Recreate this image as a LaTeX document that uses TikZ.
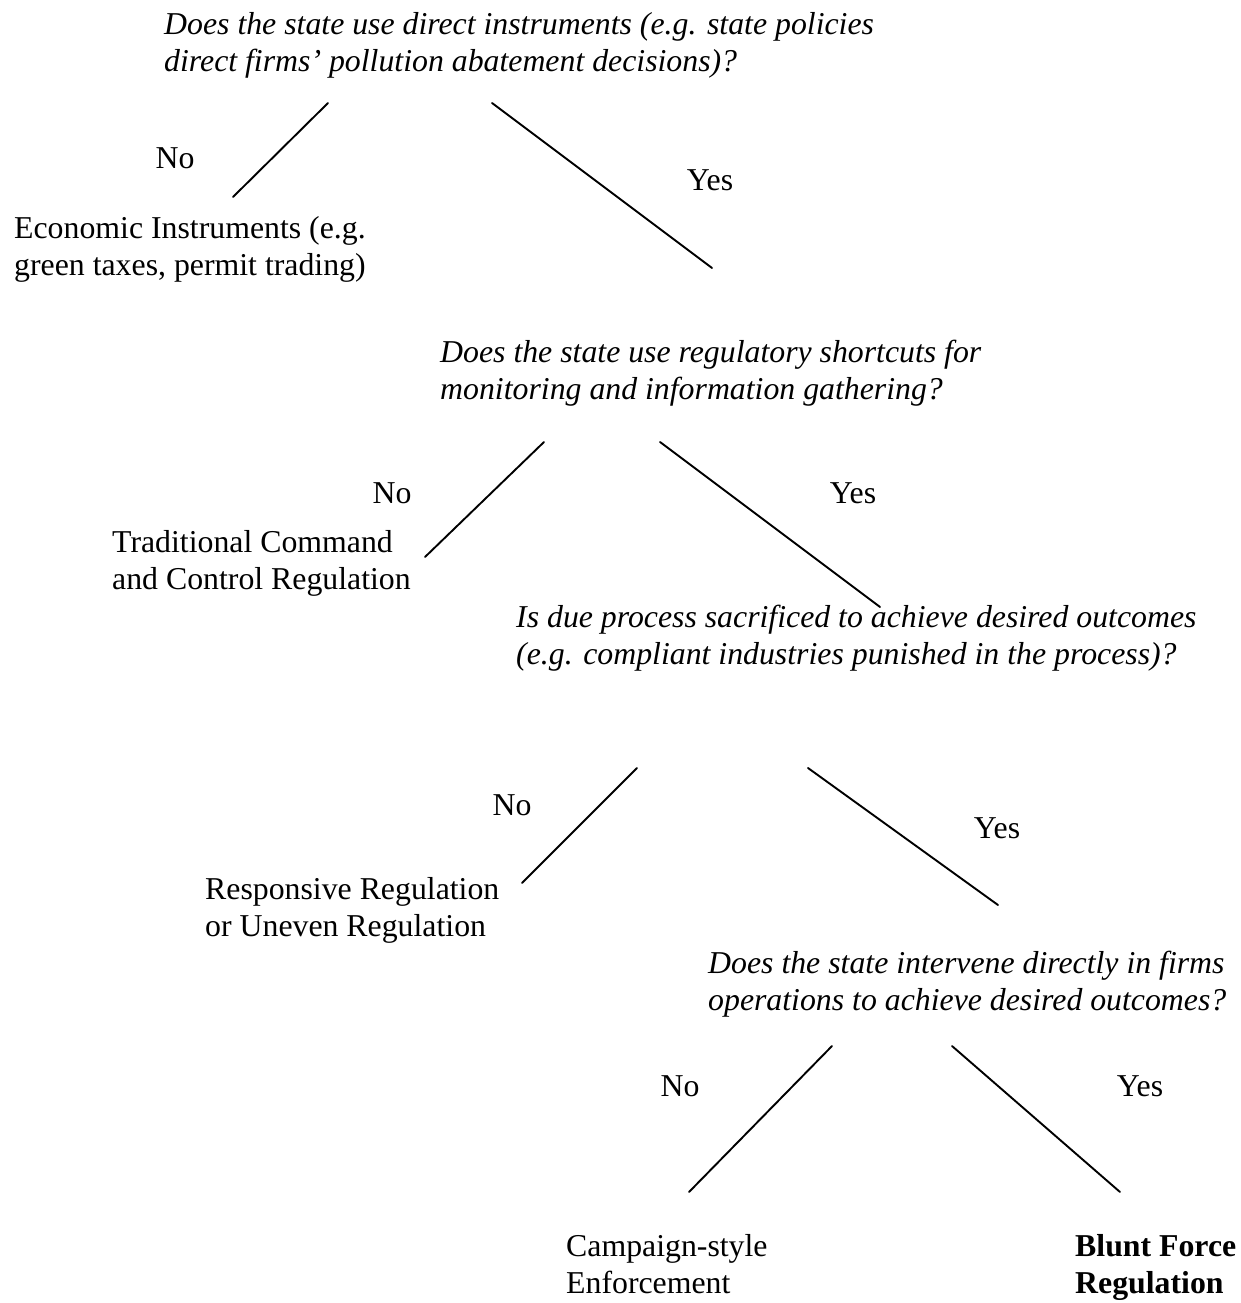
\documentclass[tikz,border=0pt]{standalone}
\usepackage{fontspec}
\setmainfont{Liberation Serif}
\begin{document}
\begin{tikzpicture}[x=1pt,y=-1pt,
  txt/.style={inner sep=0pt, anchor=north west, align=left, font=\fontsize{31.8}{37}\selectfont},
  lbl/.style={inner sep=0pt, anchor=center, font=\fontsize{31.8}{37}\selectfont},
  branch/.style={line width=1.9pt, line cap=round}]
\useasboundingbox (0,0) rectangle (1240,1303);
% questions and outcomes
\node[txt] (q1) at (164,12) {\itshape Does the state use direct instruments (e.g. state policies\\\itshape direct firms’ pollution abatement decisions)?};
\node[txt] (econ) at (14,216) {Economic Instruments (e.g.\\green taxes, permit trading)};
\node[txt] (q2) at (440,340) {\itshape Does the state use regulatory shortcuts for\\\itshape monitoring and information gathering?};
\node[txt] (trad) at (112,530) {Traditional Command\\and Control Regulation};
\node[txt] (q3) at (516,605) {\itshape Is due process sacrificed to achieve desired outcomes\\\itshape (e.g. compliant industries punished in the process)?};
\node[txt] (resp) at (205,877) {Responsive Regulation\\or Uneven Regulation};
\node[txt] (q4) at (708,951) {\itshape Does the state intervene directly in firms\\\itshape operations to achieve desired outcomes?};
\node[txt] (camp) at (566,1234) {Campaign-style\\Enforcement};
\node[txt] (blunt) at (1075,1234) {\bfseries Blunt Force\\\bfseries Regulation};
% labels
\node[lbl] (n1) at (175,158) {No};
\node[lbl] (y1) at (710,180) {Yes};
\node[lbl] (n2) at (392,493) {No};
\node[lbl] (y2) at (853,493) {Yes};
\node[lbl] (n3) at (512,805) {No};
\node[lbl] (y3) at (997,828) {Yes};
\node[lbl] (n4) at (680,1086) {No};
\node[lbl] (y4) at (1140,1086) {Yes};
% branch end points
\coordinate (a1) at (328,103); \coordinate (b1) at (233,197);
\coordinate (a2) at (492,103); \coordinate (b2) at (712,268);
\coordinate (a3) at (544,442); \coordinate (b3) at (425,557);
\coordinate (a4) at (660,442); \coordinate (b4) at (880,607);
\coordinate (a5) at (637,768); \coordinate (b5) at (522,883);
\coordinate (a6) at (808,768); \coordinate (b6) at (998,905);
\coordinate (a7) at (832,1046); \coordinate (b7) at (689,1192);
\coordinate (a8) at (952,1046); \coordinate (b8) at (1120,1192);
\draw[branch] (a1) -- (b1);
\draw[branch] (a2) -- (b2);
\draw[branch] (a3) -- (b3);
\draw[branch] (a4) -- (b4);
\draw[branch] (a5) -- (b5);
\draw[branch] (a6) -- (b6);
\draw[branch] (a7) -- (b7);
\draw[branch] (a8) -- (b8);
\end{tikzpicture}
\end{document}
